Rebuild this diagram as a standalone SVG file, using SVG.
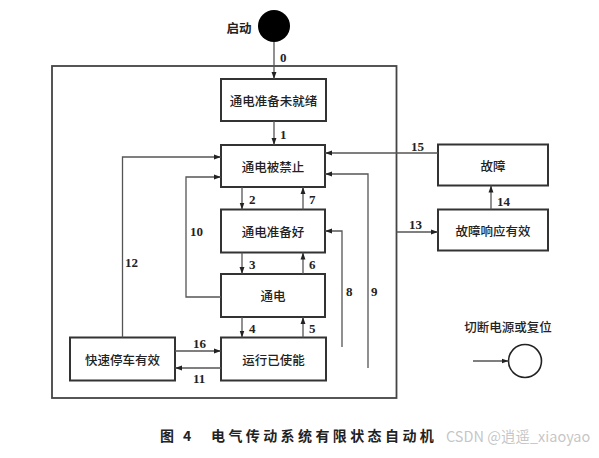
<svg xmlns="http://www.w3.org/2000/svg" width="599" height="458" viewBox="0 0 599 458">
<defs>
<marker id="ah" viewBox="0 0 10 10" refX="10" refY="5" markerWidth="7" markerHeight="7" markerUnits="userSpaceOnUse" orient="auto">
<path d="M0,1.5 L10,5 L0,8.5 z" fill="#222"/>
</marker>
</defs>
<style>
.box{fill:#fff;stroke:#333;stroke-width:2}
.t{font-family:"Noto Sans CJK SC","Noto Sans",sans-serif;font-size:12.5px;fill:#222;text-anchor:middle;dominant-baseline:central;font-weight:500}
.n{font-family:"Liberation Serif",serif;font-size:13px;fill:#222;font-weight:bold}
.c{fill:none;stroke:#555;stroke-width:1.3}
.a{marker-end:url(#ah)}
.cap{font-family:"Noto Sans CJK SC",sans-serif;font-size:14px;font-weight:bold;fill:#222}
</style>
<rect width="599" height="458" fill="#fff"/>
<rect x="52" y="66" width="344.5" height="332" fill="none" stroke="#444" stroke-width="1.8"/>

<g id="start">
<circle cx="274" cy="26" r="16" fill="#000"/>
<text x="239" y="27" class="t" style="font-weight:bold">启动</text>
</g>
<g id="n_notready"><rect class="box" x="221" y="79" width="105" height="42"/><text class="t" x="273.5" y="100">通电准备未就绪</text></g>
<g id="n_disabled"><rect class="box" x="221" y="145" width="104" height="42"/><text class="t" x="273" y="166">通电被禁止</text></g>
<g id="n_ready"><rect class="box" x="221" y="209.5" width="104" height="43"/><text class="t" x="273" y="231">通电准备好</text></g>
<g id="n_on"><rect class="box" x="221" y="274" width="104" height="43"/><text class="t" x="273" y="295.5">通电</text></g>
<g id="n_run"><rect class="box" x="221" y="337.5" width="105" height="43"/><text class="t" x="273.5" y="359">运行已使能</text></g>
<g id="n_qstop"><rect class="box" x="70" y="337.5" width="105" height="43"/><text class="t" x="122.5" y="359">快速停车有效</text></g>
<g id="n_fault"><rect class="box" x="438" y="144.5" width="110" height="41"/><text class="t" x="493" y="165">故障</text></g>
<g id="n_faultresp"><rect class="box" x="438" y="209.5" width="110" height="41"/><text class="t" x="493" y="230">故障响应有效</text></g>
<g id="legend">
<text class="t" x="508" y="326">切断电源或复位</text>
<circle cx="525" cy="361" r="16.5" fill="none" stroke="#222" stroke-width="1.6"/>
</g>

<g id="connectors">
<path class="c a" d="M274,42 V79"/>
<path class="c a" d="M274,121 V145"/>
<path class="c a" d="M242,187 V209.5"/>
<path class="c a" d="M303,209.5 V187"/>
<path class="c a" d="M242,252.5 V274"/>
<path class="c a" d="M303,274 V252.5"/>
<path class="c a" d="M242,317 V337.5"/>
<path class="c a" d="M303,337.5 V317"/>
<path class="c a" d="M221,297 H186 V177 H221"/>
<path class="c a" d="M122.5,337.5 V157 H221"/>
<path class="c a" d="M175,351 H221"/>
<path class="c a" d="M221,368 H175"/>
<path class="c a" d="M438,153 H325"/>
<path class="c a" d="M368,368 V174 H325"/>
<path class="c a" d="M342,347 V231 H325"/>
<path class="c a" d="M396.5,232 H438"/>
<path class="c a" d="M491,209.5 V185.5"/>
<path class="c a" d="M473,361 H508.5"/>
</g>

<g id="labels">
<text class="n" x="280" y="62">0</text>
<text class="n" x="280" y="139">1</text>
<text class="n" x="249" y="204">2</text>
<text class="n" x="309" y="204">7</text>
<text class="n" x="249" y="269">3</text>
<text class="n" x="309" y="269">6</text>
<text class="n" x="249" y="333">4</text>
<text class="n" x="309" y="333">5</text>
<text class="n" x="190" y="236">10</text>
<text class="n" x="125" y="267">12</text>
<text class="n" x="193" y="348">16</text>
<text class="n" x="193" y="383">11</text>
<text class="n" x="411" y="151">15</text>
<text class="n" x="409" y="229">13</text>
<text class="n" x="497" y="206">14</text>
<text class="n" x="346" y="296">8</text>
<text class="n" x="371" y="296">9</text>
</g>

<g id="caption">
<text x="160" y="441" class="cap">图</text>
<text x="183" y="441" class="cap">4</text>
<text x="211" y="441" class="cap" style="letter-spacing:3.4px">电气传动系统有限状态自动机</text>
<text x="446" y="442" style="font-family:'Noto Sans CJK SC','Liberation Sans',sans-serif;font-size:14.5px;fill:#bbb;fill-opacity:0.85">CSDN @逍遥_xiaoyao</text>
</g>
</svg>
